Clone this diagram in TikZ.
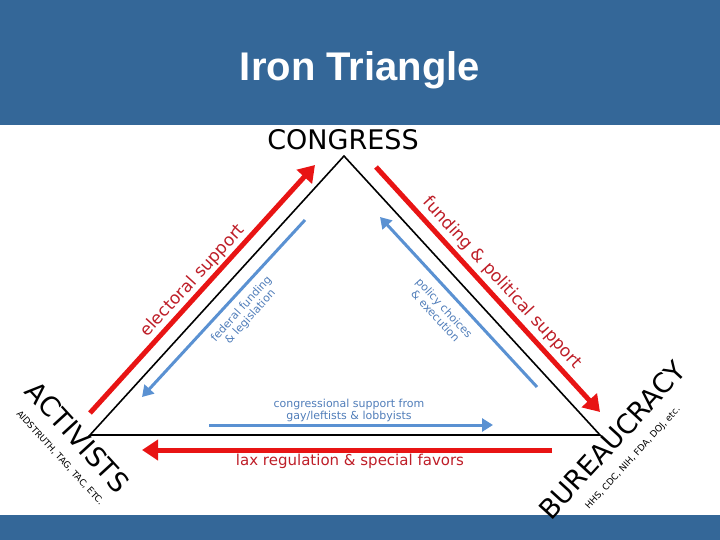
\documentclass[tikz,border=0pt]{standalone}
\usepackage{fontspec}
\usetikzlibrary{arrows.meta}
\setmainfont{DejaVu Sans}
\newfontfamily\titlefont{Liberation Sans}
\definecolor{band}{RGB}{52,103,152}
\definecolor{rd}{RGB}{232,20,20}
\definecolor{bl}{RGB}{90,145,210}
\definecolor{rtxt}{RGB}{190,30,40}
\definecolor{btxt}{RGB}{80,125,185}
\begin{document}
\begin{tikzpicture}[x=1pt,y=-1pt,
  redarrow/.style={draw=rd,line width=5pt,-{Triangle[length=16pt,width=20pt]}},
  bluearrow/.style={draw=bl,line width=3pt,-{Triangle[length=11pt,width=13pt]}},
  side/.style={draw=black,line width=1.6pt},
  rlab/.style={text=rtxt,font=\fontsize{17}{19}\selectfont,inner sep=0pt},
  blab/.style={text=btxt,font=\fontsize{11}{12}\selectfont,inner sep=0pt,align=center},
  big/.style={font=\fontsize{27}{30}\selectfont,inner sep=0pt},
  small/.style={font=\fontsize{9}{10}\selectfont,inner sep=0pt}]
\useasboundingbox (0,0) rectangle (720,540);
\fill[band] (0,0) rectangle (720,125);
\fill[band] (0,515) rectangle (720,540);
\node[text=white,font=\titlefont\bfseries\fontsize{40}{44}\selectfont] (title) at (360,70) {Iron Triangle};
\coordinate (C) at (344,156);
\coordinate (A) at (90,435);
\coordinate (B) at (600,435);
\draw[side] (C) -- (A) -- (B) -- cycle;
\node[big] (cong) at (343,140) {CONGRESS};
\node[big,rotate=-47.5] (act) at (78,437) {ACTIVISTS};
\node[small,rotate=-47.5] (actsub) at (60,458) {AIDSTRUTH, TAG, TAC, ETC.};
\node[big,rotate=47.5] (bur) at (612,440) {BUREAUCRACY};
\node[small,rotate=47.5] (bursub) at (633,458) {HHS, CDC, NIH, FDA, DOJ, etc.};
% arrows
\coordinate (e1) at (90,413); \coordinate (e2) at (315,165);
\draw[redarrow] (e1) -- (e2);
\coordinate (f1) at (376,167); \coordinate (f2) at (600,412);
\draw[redarrow] (f1) -- (f2);
\coordinate (g1) at (305,220); \coordinate (g2) at (142,397);
\draw[bluearrow] (g1) -- (g2);
\coordinate (h1) at (537,387); \coordinate (h2) at (380,217);
\draw[bluearrow] (h1) -- (h2);
\coordinate (i1) at (209,425); \coordinate (i2) at (493,425);
\draw[bluearrow] (i1) -- (i2);
\coordinate (j1) at (552,450); \coordinate (j2) at (142,450);
\draw[redarrow] (j1) -- (j2);
% labels
\node[rlab,rotate=47.7] (l1) at (193,281) {electoral support};
\node[rlab,rotate=-47.5] (l2) at (502,283) {funding \& political support};
\node[blab,rotate=47.7] (l3) at (246,313) {federal funding\\\& legislation};
\node[blab,rotate=-47.5] (l4) at (440,312) {policy choices\\\& execution};
\node[blab] (l5) at (349,410) {congressional support from\\gay/leftists \& lobbyists};
\node[rlab,font=\fontsize{15}{17}\selectfont] (l6) at (350,461) {lax regulation \& special favors};
\end{tikzpicture}
\end{document}
